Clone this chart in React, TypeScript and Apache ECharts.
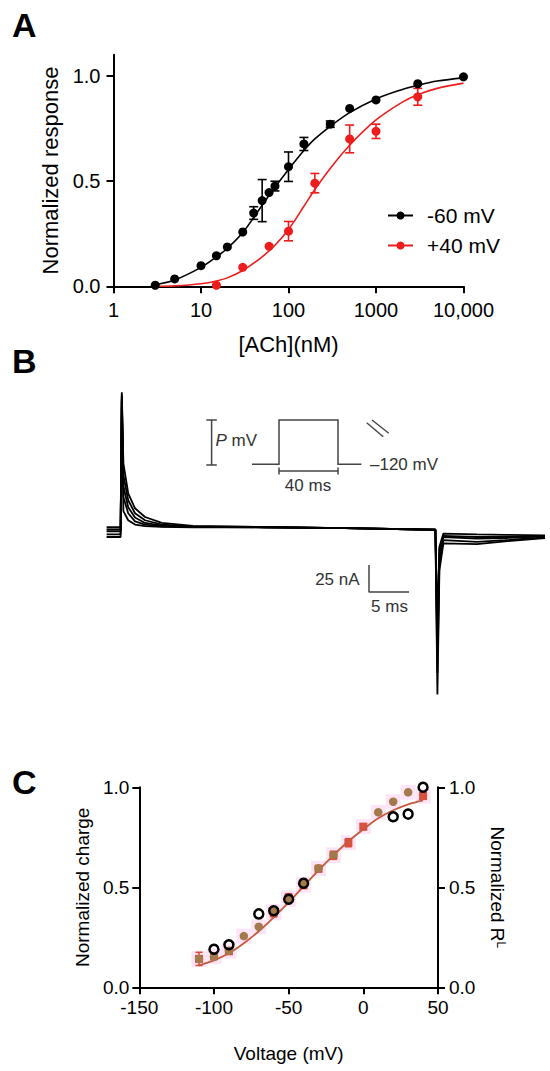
import React, { useEffect, useRef } from "react";
import * as echarts from "echarts";

const FONT = "'Liberation Sans', Arial, Helvetica, sans-serif";

// ---------- Panel A: concentration-response ----------
const achNeg60 = [3, 5, 10, 15, 20, 30, 40, 50, 60, 70, 100, 150, 300, 500, 1000, 3000, 10000];
const respNeg60 = [0.005, 0.035, 0.098, 0.145, 0.187, 0.258, 0.348, 0.407, 0.445, 0.476, 0.568, 0.676, 0.77, 0.845, 0.885, 0.962, 0.995];
const errNeg60 = [0, 0, 0, 0, 0, 0, 0.03, 0.1, 0, 0.023, 0.07, 0.031, 0.015, 0, 0, 0, 0];

const achPos40 = [3, 15, 30, 60, 100, 200, 500, 1000, 3000];
const respPos40 = [-0.005, 0.005, 0.09, 0.19, 0.262, 0.49, 0.7, 0.736, 0.9];
const errPos40 = [0, 0, 0, 0, 0.046, 0.046, 0.066, 0.034, 0.04];

const fitAch = [3, 5, 10, 15, 20, 30, 50, 70, 100, 150, 200, 300, 500, 1000, 2000, 3000, 5000, 10000];
const fitNeg60 = [0.008, 0.03, 0.09, 0.14, 0.18, 0.255, 0.385, 0.47, 0.555, 0.645, 0.7, 0.76, 0.825, 0.89, 0.935, 0.955, 0.975, 0.99];
const fitPos40 = [0.0, 0.002, 0.012, 0.025, 0.04, 0.075, 0.14, 0.195, 0.27, 0.38, 0.46, 0.56, 0.67, 0.79, 0.875, 0.91, 0.94, 0.965];

const xTicksA = ["1", "10", "100", "1000", "10,000"];
const legendA = ["-60 mV", "+40 mV"];

// ---------- Panel B: current traces (ms, nA) ----------
const traceTime = [0.2, 1.95, 2.1, 2.3, 2.9, 3.75, 5, 7.1, 11, 20, 30, 41.3, 41.55, 41.8, 42.3, 46.5, 50, 55];
const traceA = [0, 0, 125, 59, 31.5, 17.6, 9.5, 4, 1.2, 0.3, -0.8, -2.3, -155, -40, -15, -15.7, -13, -10];
const traceB = [-3.7, -3.7, 123, 48, 25, 13, 6.5, 2.5, 0.8, 0.2, -0.8, -2.3, -135, -32, -12, -13.6, -12, -9.5];
const traceC = [-6.5, -6.5, 121, 38, 18.5, 9, 4, 1.5, 0.5, 0, -0.8, -2.3, -115, -25, -9, -10.5, -10, -8.5];
const traceD = [-9, -9, 119, 28, 13, 5.5, 2.5, 0.8, 0.3, 0, -0.8, -2.3, -100, -18, -5.8, -6.5, -7, -7.5];
const traceE = [-2, -2, 117, 15, 6.5, 2.5, 1, 0.3, 0, -0.2, -0.8, -2.3, -90, -20, -8, -9, -9, -8.5];
const scaleBarT = [33, 33, 38];
const scaleBarI = [-35, -60, -60];

// ---------- Panel C: charge / RL vs voltage ----------
const voltBrown = [-110, -100, -90, -80, -70, -60, -50, -40, -30, -20, 10, 20, 30];
const chargeBrown = [0.142, 0.153, 0.183, 0.256, 0.303, 0.378, 0.44, 0.515, 0.595, 0.662, 0.875, 0.928, 0.975];
const voltRed = [-110, -100, -90, -60, -50, -40, -30, -20, -10, 0, 40];
const chargeRed = [0.142, 0.155, 0.18, 0.372, 0.448, 0.51, 0.593, 0.66, 0.723, 0.803, 0.956];
const chargeRedErr = [0.033, 0.01, 0.01, 0.02, 0.02, 0.015, 0.015, 0.02, 0.02, 0.015, 0.015];
const voltOpen = [-100, -90, -70, -60, -50, -40, 20, 30, 40];
const rlOpen = [0.19, 0.213, 0.367, 0.383, 0.44, 0.52, 0.853, 0.866, 1.0];
const voltFit = [-110, -100, -90, -80, -70, -60, -50, -40, -30, -20, -10, 0, 10, 20, 30, 40];
const chargeFit = [0.11, 0.135, 0.17, 0.22, 0.28, 0.35, 0.425, 0.505, 0.585, 0.66, 0.73, 0.79, 0.845, 0.885, 0.915, 0.935];

const BLACK = "#000";
const RED = "#ee1c1c";
const BROWN = "#a27a4c";
const SQRED = "#d9503c";
const CURVE_C = "#c45a3e";
const GRAYB = "#333";

const zip = (a: number[], b: number[]) => a.map((v, i) => [v, b[i]]);
const errData = (xs: number[], ys: number[], es: number[]) =>
  xs.map((x, i) => [x, ys[i] - es[i], ys[i] + es[i]]).filter((_, i) => es[i] > 0);

function errRender(color: string, cap: number, width: number) {
  return (params: any, api: any) => {
    const x = api.value(0);
    const p1 = api.coord([x, api.value(2)]);
    const p2 = api.coord([x, api.value(1)]);
    const style = { stroke: color, lineWidth: width };
    return {
      type: "group",
      children: [
        { type: "line", shape: { x1: p1[0], y1: p1[1], x2: p2[0], y2: p2[1] }, style },
        { type: "line", shape: { x1: p1[0] - cap, y1: p1[1], x2: p1[0] + cap, y2: p1[1] }, style },
        { type: "line", shape: { x1: p2[0] - cap, y1: p2[1], x2: p2[0] + cap, y2: p2[1] }, style },
      ],
    };
  };
}

const axisLineBlack = { show: true, onZero: false, lineStyle: { color: BLACK, width: 2 } };
const axisTickBlack = { show: true, length: 7, lineStyle: { color: BLACK, width: 2 } };

function buildOption(): any {
  const traceList = [traceA, traceB, traceC, traceD, traceE];
  const traceSeries = traceList.map((tr, k) => ({
    type: "line",
    name: "trace" + k,
    xAxisIndex: 1,
    yAxisIndex: 1,
    data: zip(traceTime, tr),
    showSymbol: false,
    symbol: "none",
    lineStyle: { color: BLACK, width: 1.8 },
    z: 3,
  }));

  return {
    animation: false,
    backgroundColor: "#fff",
    textStyle: { fontFamily: FONT },
    grid: [
      { left: 113.5, top: 54.7, width: 350, height: 231.6, outerBoundsMode: "none" },
      { left: 105, top: 388, width: 440, height: 312, outerBoundsMode: "none" },
      { left: 139.3, top: 787.3, width: 298.7, height: 200, outerBoundsMode: "none" },
    ],
    legend: {
      data: legendA,
      orient: "vertical",
      left: 382,
      top: 200,
      itemWidth: 25,
      itemHeight: 10,
      itemGap: 9,
      textStyle: { fontSize: 21, color: BLACK, fontFamily: FONT, lineHeight: 21, padding: [0, 0, 0, 9] },
    },
    xAxis: [
      {
        gridIndex: 0,
        type: "log",
        logBase: 10,
        min: 1,
        max: 10000,
        name: "[ACh](nM)",
        nameLocation: "middle",
        nameGap: 47,
        nameTextStyle: { fontSize: 22, color: BLACK, fontFamily: FONT },
        axisLine: axisLineBlack,
        axisTick: axisTickBlack,
        minorTick: { show: false },
        splitLine: { show: false },
        axisLabel: {
          fontSize: 20,
          color: BLACK,
          fontFamily: FONT,
          margin: 14,
          formatter: (v: number) => xTicksA[Math.round(Math.log10(v))] ?? "",
        },
      },
      { gridIndex: 1, type: "value", min: 0, max: 55, show: false },
      {
        gridIndex: 2,
        type: "value",
        min: -150,
        max: 50,
        interval: 50,
        name: "Voltage (mV)",
        nameLocation: "middle",
        nameGap: 57,
        nameTextStyle: { fontSize: 19, color: BLACK, fontFamily: FONT },
        axisLine: axisLineBlack,
        axisTick: axisTickBlack,
        splitLine: { show: false },
        axisLabel: { fontSize: 19, color: BLACK, fontFamily: FONT, margin: 11 },
      },
    ],
    yAxis: [
      {
        gridIndex: 0,
        type: "value",
        min: 0,
        max: 1.1,
        interval: 0.5,
        name: "Normalized response",
        nameLocation: "middle",
        nameGap: 52,
        nameTextStyle: { fontSize: 22, color: BLACK, fontFamily: FONT },
        axisLine: axisLineBlack,
        axisTick: { ...axisTickBlack, customValues: [0, 0.5, 1] },
        splitLine: { show: false },
        axisLabel: {
          fontSize: 20,
          color: BLACK,
          fontFamily: FONT,
          margin: 13,
          customValues: [0, 0.5, 1],
          formatter: (v: number) => v.toFixed(1),
        },
      },
      { gridIndex: 1, type: "value", min: -160, max: 129, show: false },
      {
        gridIndex: 2,
        type: "value",
        min: 0,
        max: 1,
        interval: 0.5,
        position: "left",
        name: "Normalized charge",
        nameLocation: "middle",
        nameGap: 43,
        nameTextStyle: { fontSize: 19, color: BLACK, fontFamily: FONT },
        axisLine: axisLineBlack,
        axisTick: axisTickBlack,
        splitLine: { show: false },
        axisLabel: { fontSize: 19, color: BLACK, fontFamily: FONT, margin: 10, formatter: (v: number) => v.toFixed(1) },
      },
      {
        gridIndex: 2,
        type: "value",
        min: 0,
        max: 1,
        interval: 0.5,
        position: "right",
        name: "Normalized R{sup|L}",
        nameLocation: "middle",
        nameRotate: -90,
        nameGap: 50,
        nameTextStyle: {
          fontSize: 19,
          color: BLACK,
          fontFamily: FONT,
          rich: { sup: { fontSize: 12, verticalAlign: "top", color: BLACK, fontFamily: FONT, padding: [0, 0, 6, 0] } },
        },
        axisLine: axisLineBlack,
        axisTick: axisTickBlack,
        splitLine: { show: false },
        axisLabel: { fontSize: 19, color: BLACK, fontFamily: FONT, margin: 11, formatter: (v: number) => v.toFixed(1) },
      },
    ],
    series: [
      // ----- Panel A -----
      {
        type: "line",
        name: "+40 mV",
        xAxisIndex: 0,
        yAxisIndex: 0,
        data: zip(fitAch, fitPos40),
        smooth: 0.35,
        showSymbol: false,
        symbol: "circle",
        lineStyle: { color: RED, width: 1.6 },
        itemStyle: { color: RED, opacity: 1 },
        z: 2,
      },
      {
        type: "custom",
        name: "errPos40",
        xAxisIndex: 0,
        yAxisIndex: 0,
        data: errData(achPos40, respPos40, errPos40),
        encode: { x: 0, y: [1, 2] },
        renderItem: errRender(RED, 4.5, 1.6),
        z: 3,
      },
      {
        type: "scatter",
        name: "+40 pts",
        xAxisIndex: 0,
        yAxisIndex: 0,
        data: zip(achPos40, respPos40),
        symbol: "circle",
        symbolSize: 9,
        itemStyle: { color: RED, opacity: 1 },
        z: 4,
      },
      {
        type: "line",
        name: "-60 mV",
        xAxisIndex: 0,
        yAxisIndex: 0,
        data: zip(fitAch, fitNeg60),
        smooth: 0.35,
        showSymbol: false,
        symbol: "circle",
        lineStyle: { color: BLACK, width: 1.6 },
        itemStyle: { color: BLACK, opacity: 1 },
        z: 5,
      },
      {
        type: "custom",
        name: "errNeg60",
        xAxisIndex: 0,
        yAxisIndex: 0,
        data: errData(achNeg60, respNeg60, errNeg60),
        encode: { x: 0, y: [1, 2] },
        renderItem: errRender(BLACK, 4.5, 1.6),
        z: 6,
      },
      {
        type: "scatter",
        name: "-60 pts",
        xAxisIndex: 0,
        yAxisIndex: 0,
        data: zip(achNeg60, respNeg60),
        symbol: "circle",
        symbolSize: 9,
        itemStyle: { color: BLACK, opacity: 1 },
        z: 7,
      },
      // ----- Panel B -----
      ...traceSeries,
      {
        type: "line",
        name: "scalebar",
        xAxisIndex: 1,
        yAxisIndex: 1,
        data: zip(scaleBarT, scaleBarI),
        showSymbol: false,
        symbol: "none",
        lineStyle: { color: "#444", width: 1.5 },
      },
      // ----- Panel C -----
      {
        type: "scatter",
        name: "halo",
        xAxisIndex: 2,
        yAxisIndex: 2,
        data: zip(voltBrown, chargeBrown).concat(zip(voltRed, chargeRed)),
        symbol: "rect",
        symbolSize: 15,
        itemStyle: { color: "#fde4f6", opacity: 1 },
        z: 1,
      },
      {
        type: "custom",
        name: "errRed",
        xAxisIndex: 2,
        yAxisIndex: 2,
        data: errData(voltRed, chargeRed, chargeRedErr),
        encode: { x: 0, y: [1, 2] },
        renderItem: errRender(SQRED, 3.5, 1.6),
        z: 2,
      },
      {
        type: "scatter",
        name: "redSq",
        xAxisIndex: 2,
        yAxisIndex: 2,
        data: zip(voltRed, chargeRed),
        symbol: "rect",
        symbolSize: 8,
        itemStyle: { color: SQRED, opacity: 1 },
        z: 3,
      },
      {
        type: "line",
        name: "fitC",
        xAxisIndex: 2,
        yAxisIndex: 2,
        data: zip(voltFit, chargeFit),
        smooth: 0.35,
        showSymbol: false,
        symbol: "none",
        lineStyle: { color: CURVE_C, width: 1.8 },
        z: 4,
      },
      {
        type: "scatter",
        name: "brown",
        xAxisIndex: 2,
        yAxisIndex: 2,
        data: zip(voltBrown, chargeBrown),
        symbol: "circle",
        symbolSize: 8.5,
        itemStyle: { color: BROWN, opacity: 1 },
        z: 5,
      },
      {
        type: "scatter",
        name: "openRL",
        xAxisIndex: 2,
        yAxisIndex: 3,
        data: zip(voltOpen, rlOpen),
        symbol: "circle",
        symbolSize: 9,
        itemStyle: { color: "rgba(255,255,255,0)", borderColor: BLACK, borderWidth: 2.5, opacity: 1 },
        z: 6,
      },
    ],
    graphic: [
      { type: "text", x: 12, y: 25, style: { text: "A", fontSize: 34, fontWeight: "bold", fontFamily: FONT, fill: BLACK, verticalAlign: "middle", textVerticalAlign: "middle" } },
      { type: "text", x: 12, y: 361, style: { text: "B", fontSize: 34, fontWeight: "bold", fontFamily: FONT, fill: BLACK, verticalAlign: "middle", textVerticalAlign: "middle" } },
      { type: "text", x: 12, y: 782, style: { text: "C", fontSize: 34, fontWeight: "bold", fontFamily: FONT, fill: BLACK, verticalAlign: "middle", textVerticalAlign: "middle" } },
      // voltage protocol inset
      { type: "line", shape: { x1: 211.6, y1: 420, x2: 211.6, y2: 465 }, style: { stroke: "#444", lineWidth: 1.5 } },
      { type: "line", shape: { x1: 206.3, y1: 420, x2: 216.8, y2: 420 }, style: { stroke: "#444", lineWidth: 1.5 } },
      { type: "line", shape: { x1: 206.3, y1: 465, x2: 216.8, y2: 465 }, style: { stroke: "#444", lineWidth: 1.5 } },
      {
        type: "text",
        x: 215.5,
        y: 440,
        style: {
          text: "{i|P} mV",
          fontSize: 17,
          fontFamily: FONT,
          fill: GRAYB,
          verticalAlign: "middle",
          textVerticalAlign: "middle",
          rich: { i: { fontStyle: "italic", fontSize: 17, fontFamily: FONT, fill: GRAYB, color: GRAYB } },
        },
      },
      {
        type: "polyline",
        shape: { points: [[252, 464.3], [279, 464.3], [279, 420], [338, 420], [338, 464.3], [361.4, 464.3]] },
        style: { stroke: "#444", lineWidth: 1.5, fill: "none" },
      },
      { type: "text", x: 370, y: 464.3, style: { text: "\u2013120 mV", fontSize: 17, fontFamily: FONT, fill: GRAYB, verticalAlign: "middle", textVerticalAlign: "middle" } },
      { type: "line", shape: { x1: 279, y1: 471, x2: 338, y2: 471 }, style: { stroke: "#444", lineWidth: 1.5 } },
      { type: "line", shape: { x1: 279, y1: 467.5, x2: 279, y2: 474.5 }, style: { stroke: "#444", lineWidth: 1.5 } },
      { type: "line", shape: { x1: 338, y1: 467.5, x2: 338, y2: 474.5 }, style: { stroke: "#444", lineWidth: 1.5 } },
      { type: "text", x: 308, y: 485, style: { text: "40 ms", fontSize: 17, fontFamily: FONT, fill: GRAYB, align: "center", textAlign: "center", verticalAlign: "middle", textVerticalAlign: "middle" } },
      { type: "line", shape: { x1: 366.7, y1: 422.7, x2: 383.2, y2: 436.7 }, style: { stroke: "#444", lineWidth: 1.4 } },
      { type: "line", shape: { x1: 372, y1: 420, x2: 388.8, y2: 433.3 }, style: { stroke: "#444", lineWidth: 1.4 } },
      // scale bar labels
      { type: "text", x: 359.6, y: 579.3, style: { text: "25 nA", fontSize: 17, fontFamily: FONT, fill: GRAYB, align: "right", textAlign: "right", verticalAlign: "middle", textVerticalAlign: "middle" } },
      { type: "text", x: 389.5, y: 606.7, style: { text: "5 ms", fontSize: 17, fontFamily: FONT, fill: GRAYB, align: "center", textAlign: "center", verticalAlign: "middle", textVerticalAlign: "middle" } },
    ],
  };
}

export default function App() {
  const ref = useRef<HTMLDivElement>(null);
  useEffect(() => {
    if (!ref.current) return;
    const chart = echarts.init(ref.current, null, { renderer: "svg" });
    chart.setOption(buildOption());
    return () => chart.dispose();
  }, []);
  return (
    <div
      ref={ref}
      style={{ position: "fixed", left: 0, top: 0, width: 550, height: 1071, background: "#fff" }}
    />
  );
}
